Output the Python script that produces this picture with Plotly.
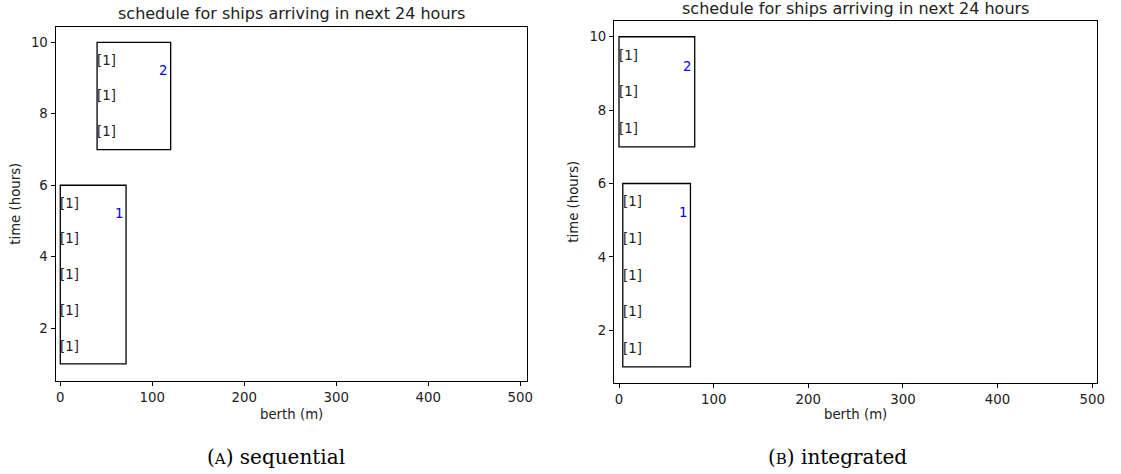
import plotly.graph_objects as go

W, H = 1121, 474

# ---- data ----
ship_ids = [1, 2]
arrive = [1, 7]
depart = [6, 10]
cargo_label = "[1]"

seq_start = [0, 40]
seq_end = [71.5, 120]

int_start = [4, 0]
int_end = [75.5, 80]

x_ticks = [0, 100, 200, 300, 400, 500]
y_ticks = [2, 4, 6, 8, 10]
title_text = "schedule for ships arriving in next 24 hours"
captions = ["(<span style='font-size:15px'>A</span>) sequential",
            "(<span style='font-size:15px'>B</span>) integrated"]

# ---- layout geometry (pixels) ----
axes_px = [
    dict(x0=56, x1=530.7, y0=27, y1=380.7),
    dict(x0=618.5, x1=1105, y0=21, y1=382.7),
]
xr = [[-5.1, 507.3], [-5.2, 505.2]]
yr = [[0.53, 10.43], [0.57, 10.43]]
title_y = [13, 9]

fig = go.Figure()
font = "DejaVu Sans"
fs = 13.3

shapes = []
annotations = []
for i, (starts, ends) in enumerate([(seq_start, seq_end), (int_start, int_end)]):
    xa = "x" if i == 0 else "x2"
    ya = "y" if i == 0 else "y2"
    fig.add_trace(go.Scatter(x=[None], y=[None], xaxis=xa, yaxis=ya, showlegend=False))
    for s, e, a, d, sid in zip(starts, ends, arrive, depart, ship_ids):
        shapes.append(dict(type="rect", xref=xa, yref=ya, x0=s, x1=e, y0=a, y1=d,
                           line=dict(color="black", width=1.3), fillcolor="rgba(0,0,0,0)"))
        t = a + 0.5
        while t < d:
            annotations.append(dict(x=s, y=t, xref=xa, yref=ya, text=cargo_label,
                                    showarrow=False, xanchor="left", yanchor="middle",
                                    xshift=-2, font=dict(family=font, size=fs, color="#222")))
            t += 1
        annotations.append(dict(x=e - 8, y=d - 0.8, xref=xa, yref=ya, text=str(sid),
                                showarrow=False, xanchor="center", yanchor="middle",
                                font=dict(family=font, size=fs, color="blue")))

axis_common = dict(showline=True, mirror=True, linecolor="black", linewidth=1.2,
                   ticks="outside", ticklen=4, tickwidth=1, tickcolor="black",
                   showgrid=False, zeroline=False,
                   tickfont=dict(family=font, size=fs, color="#222"))

for i, p in enumerate(axes_px):
    sx = "" if i == 0 else "2"
    fig.update_layout(**{
        f"xaxis{sx}": dict(domain=[p["x0"] / W, p["x1"] / W], range=xr[i], tickvals=x_ticks,
                           anchor="y" + sx, **axis_common),
        f"yaxis{sx}": dict(domain=[1 - p["y1"] / H, 1 - p["y0"] / H], range=yr[i], tickvals=y_ticks,
                           anchor="x" + sx, **axis_common),
    })
    cx = (p["x0"] + p["x1"]) / 2
    annotations.append(dict(x=cx / W, y=1 - title_y[i] / H, xref="paper", yref="paper",
                            text=title_text, showarrow=False, xanchor="center", yanchor="middle",
                            font=dict(family=font, size=16, color="#222")))
    annotations.append(dict(x=cx / W, y=1 - 414 / H, xref="paper", yref="paper",
                            text="berth (m)", showarrow=False, xanchor="center", yanchor="middle",
                            font=dict(family=font, size=fs, color="#222")))
    ylx = 16 if i == 0 else 578
    annotations.append(dict(x=ylx / W, y=1 - ((p["y0"] + p["y1"]) / 2) / H, xref="paper", yref="paper",
                            text="time (hours)", textangle=-90, showarrow=False,
                            xanchor="center", yanchor="middle",
                            font=dict(family=font, size=fs, color="#222")))

cap_x = [278, 844]
for i, c in enumerate(captions):
    annotations.append(dict(x=cap_x[i] / W, y=1 - 457 / H, xref="paper", yref="paper",
                            text=c, showarrow=False, xanchor="center", yanchor="middle",
                            font=dict(family="DejaVu Serif", size=20, color="black")))

fig.update_layout(width=W, height=H, margin=dict(l=0, r=0, t=0, b=0),
                  paper_bgcolor="white", plot_bgcolor="white",
                  shapes=shapes, annotations=annotations, showlegend=False)

fig.write_html("out.html")
